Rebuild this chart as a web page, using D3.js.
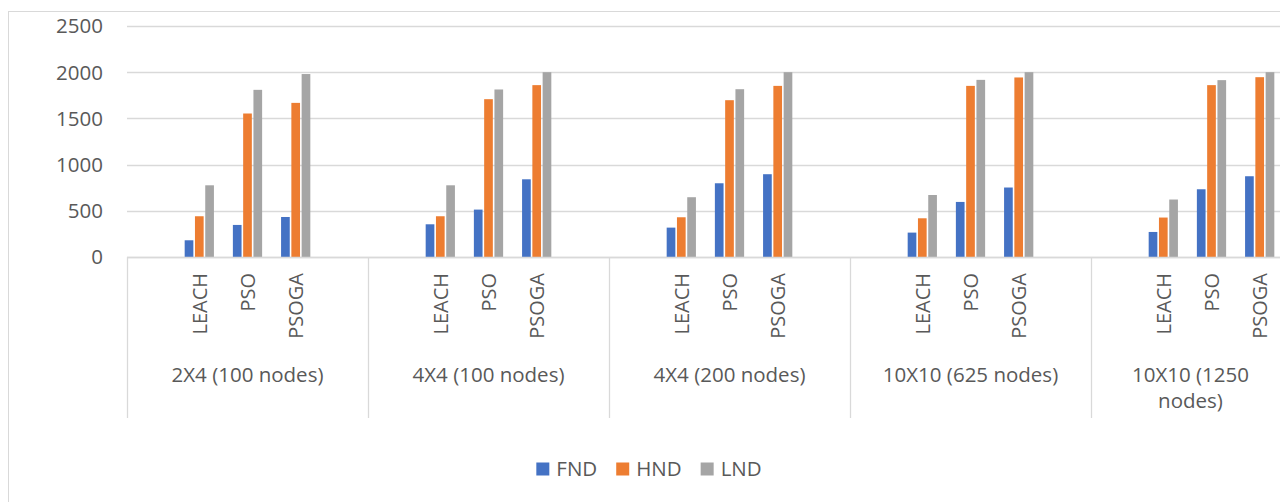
<!DOCTYPE html>
<html>
<head>
<meta charset="utf-8">
<script src="https://cdn.jsdelivr.net/npm/d3@7"></script>
<style>
  html, body { margin: 0; padding: 0; background: #fff; overflow: hidden; }
  svg { display: block; }
  text { font-family: "Open Sans", sans-serif; fill: #595959; }
</style>
</head>
<body>
<svg></svg>
<script>
var width = 1280;
var height = 502;

// outer categories and the inner slots (Excel left a blank slot each side)
var groups = ["2X4 (100 nodes)", "4X4 (100 nodes)", "4X4 (200 nodes)", "10X10 (625 nodes)", "10X10 (1250 nodes)"];
var slots = ["", "LEACH", "PSO", "PSOGA", " "];
var methods = ["LEACH", "PSO", "PSOGA"];
var series = ["FND", "HND", "LND"];
var colors = ["#4472C4", "#ED7D31", "#A5A5A5"];
var yTicks = [0, 500, 1000, 1500, 2000, 2500];

// values per group, in LEACH, PSO, PSOGA order
var fnd = [181, 347, 433,   354, 513, 841,   318, 798, 896,   264, 596, 752,   271, 733, 874];
var hnd = [441, 1553, 1668, 441, 1708, 1860, 430, 1697, 1852, 419, 1852, 1943, 427, 1860, 1946];
var lnd = [776, 1809, 1980, 776, 1813, 2000, 647, 1816, 2000, 671, 1917, 2000, 622, 1914, 2000];

var values = { FND: fnd, HND: hnd, LND: lnd };

var chartLeft = 8, chartTop = 11, chartRight = 1290;
var plotLeft = 127, groupW = 241;
var plotRight = plotLeft + groupW * groups.length;

var svg = d3.select("svg")
    .attr("width", width)
    .attr("height", height);

// chart area border (runs off the right and bottom of the picture)
svg.append("rect")
    .attr("x", chartLeft + 0.5)
    .attr("y", chartTop + 0.5)
    .attr("width", chartRight - chartLeft)
    .attr("height", 600)
    .attr("fill", "none")
    .attr("stroke", "#d9d9d9");

var y = d3.scaleLinear()
    .domain([0, 2500])
    .range([257, 26]);

var x0 = d3.scaleBand()
    .domain(groups)
    .range([plotLeft, plotRight]);

var xSlot = d3.scaleBand()
    .domain(slots)
    .range([0, x0.bandwidth()]);

var x1 = d3.scaleBand()
    .domain(series)
    .range([xSlot.bandwidth() * 0.18, xSlot.bandwidth() * 0.82]);

var color = d3.scaleOrdinal()
    .domain(series)
    .range(colors);

// gridlines + y labels
svg.append("g")
  .selectAll("line")
  .data(yTicks)
  .enter()
  .append("line")
    .attr("x1", plotLeft)
    .attr("x2", plotRight)
    .attr("y1", d => Math.round(y(d)) + 0.5)
    .attr("y2", d => Math.round(y(d)) + 0.5)
    .attr("stroke", "#d9d9d9")
    .attr("stroke-width", 1.3);

svg.append("g")
  .selectAll("text")
  .data(yTicks)
  .enter()
  .append("text")
    .attr("x", 103)
    .attr("y", d => y(d))
    .attr("dy", "0.36em")
    .style("text-anchor", "end")
    .style("font-size", "20.5px")
    .text(d => d);

// bars
var barData = [];
groups.forEach((g, gi) => {
  methods.forEach((m, mi) => {
    series.forEach(s => {
      barData.push({ group: g, method: m, series: s, value: values[s][gi * methods.length + mi] });
    });
  });
});

svg.append("g")
  .selectAll("rect")
  .data(barData)
  .enter()
  .append("rect")
    .attr("x", d => x0(d.group) + xSlot(d.method) + x1(d.series) + 0.8)
    .attr("width", x1.bandwidth() - 1.6)
    .attr("y", d => y(d.value))
    .attr("height", d => y(0) - y(d.value))
    .attr("fill", d => color(d.series));

// category axis: baseline and separators
svg.append("line")
    .attr("x1", plotLeft)
    .attr("x2", plotRight)
    .attr("y1", 257.5)
    .attr("y2", 257.5)
    .attr("stroke", "#d9d9d9")
    .attr("stroke-width", 1.3);

svg.append("g")
  .selectAll("line")
  .data(d3.range(groups.length + 1))
  .enter()
  .append("line")
    .attr("x1", i => Math.round(plotLeft + i * x0.step()) + 0.5)
    .attr("x2", i => Math.round(plotLeft + i * x0.step()) + 0.5)
    .attr("y1", 257)
    .attr("y2", 418)
    .attr("stroke", "#d9d9d9")
    .attr("stroke-width", 1.3);

// rotated method labels
var methodLabels = [];
groups.forEach(g => methods.forEach(m => methodLabels.push({ group: g, method: m })));

svg.append("g")
  .selectAll("text")
  .data(methodLabels)
  .enter()
  .append("text")
    .attr("transform", d => `translate(${x0(d.group) + xSlot(d.method) + xSlot.bandwidth() / 2}, 273) rotate(-90)`)
    .attr("dy", "0.36em")
    .style("text-anchor", "end")
    .style("font-size", "20px")
    .text(d => d.method);

// group labels, wrapped to the visible width like Excel does
var groupLabels = svg.append("g")
  .selectAll("text")
  .data(groups)
  .enter()
  .append("text")
    .style("text-anchor", "middle")
    .style("font-size", "20.5px")
    .each(function(g) {
      var left = x0(g);
      var right = Math.min(left + x0.bandwidth(), chartRight);
      var cx = (left + right) / 2;
      var maxW = right - left - 24;
      var el = d3.select(this);
      var words = g.split(" ");
      var lines = [];
      var line = [];
      words.forEach(w => {
        line.push(w);
        el.text(line.join(" "));
        if (this.getComputedTextLength() > maxW && line.length > 1) {
          line.pop();
          lines.push(line.join(" "));
          line = [w];
        }
      });
      lines.push(line.join(" "));
      el.text(null);
      lines.forEach((l, i) => {
        el.append("tspan")
          .attr("x", cx)
          .attr("y", 382 + i * 26)
          .text(l);
      });
    });

// legend
var legend = svg.append("g");
var lx = 0;
series.forEach(s => {
  var item = legend.append("g").attr("transform", `translate(${lx}, 0)`);
  item.append("rect")
      .attr("x", 0)
      .attr("y", 462.5)
      .attr("width", 13)
      .attr("height", 13)
      .attr("fill", color(s));
  var t = item.append("text")
      .attr("x", 20)
      .attr("y", 475.5)
      .style("font-size", "20.5px")
      .text(s);
  lx += 20 + t.node().getComputedTextLength() + 19;
});
var legendW = lx - 19;
legend.attr("transform", `translate(${(chartLeft + chartRight) / 2 - legendW / 2}, 0)`);
</script>
</body>
</html>
